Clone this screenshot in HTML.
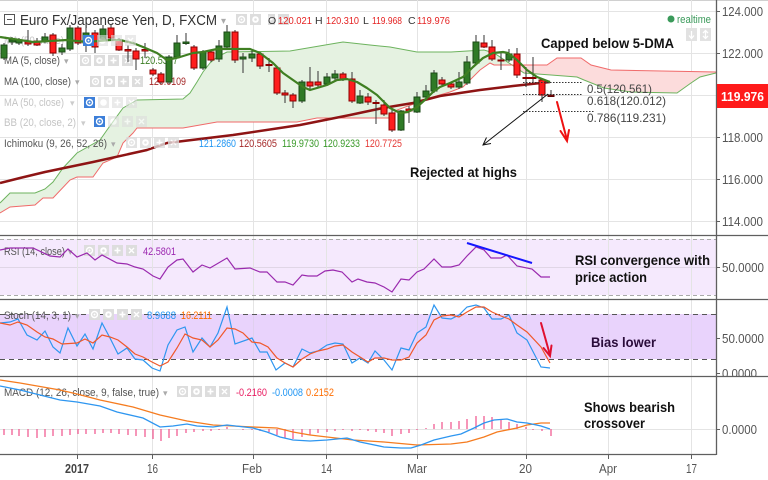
<!DOCTYPE html>
<html><head><meta charset="utf-8"><style>
html,body{margin:0;padding:0;background:#fff;}
svg{display:block;font-family:"Liberation Sans",Arial,sans-serif;}
</style></head><body>
<svg width="768" height="480" viewBox="0 0 768 480" xmlns="http://www.w3.org/2000/svg">
<defs>
<clipPath id="cm"><rect x="0" y="0" width="716" height="235"/></clipPath>
<clipPath id="cgreen"><rect x="0" y="0" width="512" height="235"/></clipPath>
<clipPath id="cred"><rect x="512" y="0" width="204" height="235"/></clipPath>
<clipPath id="cst"><rect x="0" y="300" width="716" height="76"/></clipPath>
<clipPath id="cmacd"><rect x="0" y="377" width="716" height="77"/></clipPath>
<clipPath id="cax"><rect x="716" y="300" width="52" height="76"/></clipPath>
<g id="ic4">
<rect x="0" y="0" width="11" height="11" fill="#dddddd"/>
<circle cx="5.5" cy="5.5" r="3" fill="none" stroke="#fff" stroke-width="1.4"/><circle cx="5.5" cy="5.5" r="1" fill="#fff"/>
<rect x="14" y="0" width="11" height="11" fill="#dddddd"/>
<circle cx="19.5" cy="5.5" r="3.3" fill="#fff"/><circle cx="19.5" cy="5.5" r="1.3" fill="#dddddd"/>
<rect x="28" y="0" width="11" height="11" fill="#dddddd"/>
<path d="M33.5 2.5V8.5M30.5 5.5H36.5" stroke="#fff" stroke-width="1.6"/>
<rect x="42" y="0" width="11" height="11" fill="#dddddd"/>
<path d="M45 3L50 8M50 3L45 8" stroke="#fff" stroke-width="1.4"/>
</g>
<g id="icb">
<rect x="0" y="0" width="11" height="11" fill="#3d7fd9"/>
<circle cx="5.5" cy="5.5" r="3" fill="none" stroke="#fff" stroke-width="1.4"/><circle cx="5.5" cy="5.5" r="1" fill="#fff"/>
</g>
<g id="ic3f" opacity="0.6">
<rect x="0" y="0" width="11" height="11" fill="#dddddd"/>
<circle cx="5.5" cy="5.5" r="3.3" fill="#fff"/>
<rect x="14" y="0" width="11" height="11" fill="#dddddd"/>
<path d="M19.5 2.5V8.5M16.5 5.5H22.5" stroke="#fff" stroke-width="1.6"/>
<rect x="28" y="0" width="11" height="11" fill="#dddddd"/>
<path d="M31 3L36 8M36 3L31 8" stroke="#fff" stroke-width="1.4"/>
</g>
</defs>

<!-- top border -->
<line x1="0" y1="0.5" x2="768" y2="0.5" stroke="#d0d0d0"/>

<!-- vertical grid -->
<g stroke="#e4e4e4" stroke-width="1">
<line x1="77.5" y1="0" x2="77.5" y2="454"/>
<line x1="152.5" y1="0" x2="152.5" y2="454"/>
<line x1="253.5" y1="0" x2="253.5" y2="454"/>
<line x1="326.5" y1="0" x2="326.5" y2="454"/>
<line x1="417.5" y1="0" x2="417.5" y2="454"/>
<line x1="526.5" y1="0" x2="526.5" y2="454"/>
<line x1="608.5" y1="0" x2="608.5" y2="454"/>
<line x1="691.5" y1="0" x2="691.5" y2="454"/>
<!-- main horizontals -->
<line x1="0" y1="11.5" x2="716" y2="11.5"/>
<line x1="0" y1="53.5" x2="716" y2="53.5"/>
<line x1="0" y1="95.5" x2="716" y2="95.5"/>
<line x1="0" y1="137.5" x2="716" y2="137.5"/>
<line x1="0" y1="179.5" x2="716" y2="179.5"/>
<line x1="0" y1="221.5" x2="716" y2="221.5"/>
</g>

<!-- Ichimoku cloud -->
<g clip-path="url(#cm)">
<polygon clip-path="url(#cgreen)" fill="#e5f2e1" points="0,203 10,193 35,193 45,189 53,182 63,168 77,153 100,140 107,130 123,108 137,100 183,99 190,93 197,82 203,72 210,63 217,57 227,52 290,51 337,43 343,42 370,45 390,47 417,52 451,52 484,50 494,53 524,73 551,75 577,77 584,80 604,88 631,92 677,93 691,83 700,77 716,73 716,72 611,70 591,65 581,58 557,58 547,65 524,65 494,65 490,63 480,70 463,87 450,92 433,97 397,110 390,118 317,118 297,122 217,122 183,128 137,128 133,133 123,143 117,157 103,163 93,177 77,177 70,180 53,198 43,198 35,205 10,207 0,213"/>
<polygon clip-path="url(#cred)" fill="#fcdcdc" points="0,203 10,193 35,193 45,189 53,182 63,168 77,153 100,140 107,130 123,108 137,100 183,99 190,93 197,82 203,72 210,63 217,57 227,52 290,51 337,43 343,42 370,45 390,47 417,52 451,52 484,50 494,53 524,73 551,75 577,77 584,80 604,88 631,92 677,93 691,83 700,77 716,73 716,72 611,70 591,65 581,58 557,58 547,65 524,65 494,65 490,63 480,70 463,87 450,92 433,97 397,110 390,118 317,118 297,122 217,122 183,128 137,128 133,133 123,143 117,157 103,163 93,177 77,177 70,180 53,198 43,198 35,205 10,207 0,213"/>
<polyline fill="none" stroke="#6db35e" stroke-width="1" points="0,203 10,193 35,193 45,189 53,182 63,168 77,153 100,140 107,130 123,108 137,100 183,99 190,93 197,82 203,72 210,63 217,57 227,52 290,51 337,43 343,42 370,45 390,47 417,52 451,52 484,50 494,53 524,73 551,75 577,77 584,80 604,88 631,92 677,93 691,83 700,77 716,73"/>
<polyline fill="none" stroke="#f06a6a" stroke-width="1" points="0,213 10,207 35,205 43,198 53,198 70,180 77,177 93,177 103,163 117,157 123,143 133,133 137,128 183,128 217,122 297,122 317,118 390,118 397,110 433,97 450,92 463,87 480,70 490,63 494,65 524,65 547,65 557,58 581,58 591,65 611,70 716,72"/>
<!-- MA100 -->
<polyline fill="none" stroke="#8e1414" stroke-width="2.5" stroke-linejoin="round" points="0,183 20,178 45,172 93,162 147,150 167,143 233,135 300,125 350,115 383,108 413,103 440,96 480,90 513,86 550,82"/>
</g>

<!-- Legend main -->
<g font-size="11">
<rect x="4.5" y="14.5" width="10" height="10" fill="none" stroke="#555" stroke-width="1"/>
<line x1="7" y1="19.5" x2="12" y2="19.5" stroke="#555"/>
<text x="20" y="25" font-size="14.5" fill="#333" textLength="197" lengthAdjust="spacingAndGlyphs">Euro Fx/Japanese Yen, D, FXCM</text>
<text x="221" y="24" fill="#aaa" font-size="10">▾</text>
<use href="#ic4" x="236" y="14"/>
<rect x="264" y="13" width="4" height="14" fill="#fff"/>
<text x="268" y="24" fill="#333" font-size="10.5">O</text>
<text x="278" y="24" fill="#e52222" font-size="10.5" textLength="34" lengthAdjust="spacingAndGlyphs">120.021</text>
<text x="315" y="24" fill="#333" font-size="10.5">H</text>
<text x="326" y="24" fill="#e52222" font-size="10.5" textLength="33" lengthAdjust="spacingAndGlyphs">120.310</text>
<text x="363" y="24" fill="#333" font-size="10.5">L</text>
<text x="372" y="24" fill="#e52222" font-size="10.5" textLength="30" lengthAdjust="spacingAndGlyphs">119.968</text>
<text x="408" y="24" fill="#333" font-size="10.5">C</text>
<text x="417" y="24" fill="#e52222" font-size="10.5" textLength="33" lengthAdjust="spacingAndGlyphs">119.976</text>

<text x="4" y="44" fill="#c4c4c4" textLength="60" lengthAdjust="spacingAndGlyphs">MA (50, false)</text>
<text x="68" y="44" fill="#ccc" font-size="9">▾</text>
<text x="4" y="64" fill="#555" textLength="56" lengthAdjust="spacingAndGlyphs">MA (5, close)</text>
<text x="64" y="64" fill="#aaa" font-size="9">▾</text>
<use href="#ic4" x="80" y="55"/>
<text x="140" y="64" fill="#3b7d23" textLength="38" lengthAdjust="spacingAndGlyphs">120.5337</text>
<text x="4" y="85" fill="#555" textLength="67" lengthAdjust="spacingAndGlyphs">MA (100, close)</text>
<text x="75" y="85" fill="#aaa" font-size="9">▾</text>
<use href="#ic4" x="90" y="76"/>
<text x="149" y="85" fill="#a52a2a" textLength="37" lengthAdjust="spacingAndGlyphs">120.6109</text>
<text x="4" y="106" fill="#c4c4c4" textLength="60" lengthAdjust="spacingAndGlyphs">MA (50, close)</text>
<text x="70" y="106" fill="#ccc" font-size="9">▾</text>
<text x="4" y="126" fill="#c4c4c4" textLength="72" lengthAdjust="spacingAndGlyphs">BB (20, close, 2)</text>
<text x="81" y="126" fill="#ccc" font-size="9">▾</text>
<text x="4" y="147" fill="#555" textLength="103" lengthAdjust="spacingAndGlyphs">Ichimoku (9, 26, 52, 26)</text>
<text x="111" y="147" fill="#aaa" font-size="9">▾</text>
<use href="#ic4" x="126" y="137" opacity="0.8"/>
<text x="199" y="147" fill="#2196f3" textLength="37" lengthAdjust="spacingAndGlyphs">121.2860</text>
<text x="239" y="147" fill="#a52a2a" textLength="38" lengthAdjust="spacingAndGlyphs">120.5605</text>
<text x="282" y="147" fill="#3a9a2a" textLength="37" lengthAdjust="spacingAndGlyphs">119.9730</text>
<text x="323" y="147" fill="#3a9a2a" textLength="37" lengthAdjust="spacingAndGlyphs">120.9233</text>
<text x="365" y="147" fill="#e53935" textLength="37" lengthAdjust="spacingAndGlyphs">120.7725</text>
</g>

<!-- candles -->
<g clip-path="url(#cm)" stroke-width="1">
<g stroke="#333">
<line x1="4" y1="43" x2="4" y2="60"/><line x1="12" y1="37" x2="12" y2="45"/><line x1="19" y1="38" x2="19" y2="45"/><line x1="28" y1="30" x2="28" y2="46"/><line x1="37" y1="38" x2="37" y2="46"/><line x1="45" y1="33" x2="45" y2="43"/><line x1="53" y1="33" x2="53" y2="56"/><line x1="62" y1="44" x2="62" y2="55"/><line x1="70" y1="25" x2="70" y2="51"/><line x1="78" y1="26" x2="78" y2="45"/><line x1="86" y1="28" x2="86" y2="52"/><line x1="95" y1="30" x2="95" y2="53"/><line x1="103" y1="25" x2="103" y2="40"/><line x1="111" y1="25" x2="111" y2="40"/><line x1="119" y1="38" x2="119" y2="51"/><line x1="128" y1="45" x2="128" y2="62"/><line x1="136" y1="48" x2="136" y2="70"/><line x1="145" y1="43" x2="145" y2="58"/><line x1="153" y1="68" x2="153" y2="76"/><line x1="161" y1="72" x2="161" y2="84"/><line x1="169" y1="55" x2="169" y2="84"/><line x1="177" y1="35" x2="177" y2="58"/><line x1="186" y1="33" x2="186" y2="45"/><line x1="194" y1="45" x2="194" y2="70"/><line x1="203" y1="50" x2="203" y2="70"/><line x1="211" y1="50" x2="211" y2="62"/><line x1="219" y1="40" x2="219" y2="62"/><line x1="227" y1="25" x2="227" y2="49"/><line x1="235" y1="30" x2="235" y2="63"/><line x1="243" y1="53" x2="243" y2="73"/><line x1="252" y1="50" x2="252" y2="62"/><line x1="260" y1="52" x2="260" y2="69"/><line x1="269" y1="58" x2="269" y2="72"/><line x1="277" y1="66" x2="277" y2="95"/><line x1="285" y1="90" x2="285" y2="103"/><line x1="293" y1="93" x2="293" y2="108"/><line x1="302" y1="80" x2="302" y2="103"/><line x1="310" y1="67" x2="310" y2="90"/><line x1="318" y1="71" x2="318" y2="88"/><line x1="327" y1="73" x2="327" y2="86"/><line x1="335" y1="70" x2="335" y2="80"/><line x1="343" y1="72" x2="343" y2="81"/><line x1="352" y1="72" x2="352" y2="103"/><line x1="360" y1="90" x2="360" y2="104"/><line x1="368" y1="93" x2="368" y2="105"/><line x1="376" y1="100" x2="376" y2="124"/><line x1="384" y1="100" x2="384" y2="116"/><line x1="392" y1="108" x2="392" y2="132"/><line x1="401" y1="110" x2="401" y2="131"/><line x1="409" y1="106" x2="409" y2="123"/><line x1="417" y1="92" x2="417" y2="113"/><line x1="426" y1="85" x2="426" y2="99"/><line x1="434" y1="70" x2="434" y2="93"/><line x1="442" y1="77" x2="442" y2="86"/><line x1="451" y1="82" x2="451" y2="89"/><line x1="459" y1="72" x2="459" y2="89"/><line x1="467" y1="56" x2="467" y2="85"/><line x1="476" y1="35" x2="476" y2="64"/><line x1="484" y1="35" x2="484" y2="48"/><line x1="492" y1="40" x2="492" y2="61"/><line x1="501" y1="52" x2="501" y2="70"/><line x1="509" y1="49" x2="509" y2="62"/><line x1="517" y1="48" x2="517" y2="78"/><line x1="526" y1="67" x2="526" y2="87"/><line x1="533" y1="57" x2="533" y2="83"/><line x1="542" y1="78" x2="542" y2="102"/><line x1="551" y1="90" x2="551" y2="97"/>
</g>
<g fill="#2f7a26" stroke="#1b4a16">
<rect x="1" y="45" width="6" height="13"/><rect x="9" y="40" width="6" height="2"/><rect x="16" y="40" width="6" height="3"/><rect x="42" y="37" width="6" height="4"/><rect x="59" y="48" width="6" height="4"/><rect x="67" y="28" width="6" height="21"/><rect x="83" y="33" width="6" height="10"/><rect x="100" y="29" width="6" height="10"/><rect x="166" y="57" width="6" height="25"/><rect x="174" y="43" width="6" height="14"/><rect x="183" y="42" width="6" height="1.5"/><rect x="200" y="52" width="6" height="16"/><rect x="216" y="46" width="6" height="13"/><rect x="224" y="32" width="6" height="15"/><rect x="240" y="57" width="6" height="2"/><rect x="249" y="54" width="6" height="4"/><rect x="299" y="82" width="6" height="19"/><rect x="324" y="77" width="6" height="7"/><rect x="332" y="74" width="6" height="4"/><rect x="357" y="96" width="6" height="7"/><rect x="398" y="111" width="6" height="19"/><rect x="414" y="97" width="6" height="15"/><rect x="423" y="91" width="6" height="6"/><rect x="431" y="73" width="6" height="18"/><rect x="456" y="82" width="6" height="5"/><rect x="464" y="62" width="6" height="21"/><rect x="473" y="42" width="6" height="21"/><rect x="506" y="54" width="6" height="6"/>
</g>
<g fill="#ff1e1e" stroke="#8a0000">
<rect x="25" y="42" width="6" height="2"/><rect x="34" y="41" width="6" height="4"/><rect x="50" y="35" width="6" height="18"/><rect x="75" y="28" width="6" height="15"/><rect x="92" y="33" width="6" height="14"/><rect x="108" y="28" width="6" height="10"/><rect x="116" y="40" width="6" height="10"/><rect x="125" y="49.5" width="6" height="1.5"/><rect x="133" y="51" width="6" height="8"/><rect x="142" y="49.5" width="6" height="1.5"/><rect x="150" y="70" width="6" height="4"/><rect x="158" y="74" width="6" height="8"/><rect x="191" y="47" width="6" height="21"/><rect x="208" y="52" width="6" height="8"/><rect x="232" y="32" width="6" height="28"/><rect x="257" y="54" width="6" height="12"/><rect x="266" y="64.5" width="6" height="1"/><rect x="274" y="68" width="6" height="25"/><rect x="282" y="93" width="6" height="2"/><rect x="290" y="95" width="6" height="6"/><rect x="307" y="82" width="6" height="4"/><rect x="315" y="82" width="6" height="3"/><rect x="340" y="74" width="6" height="5"/><rect x="349" y="79" width="6" height="22"/><rect x="365" y="97" width="6" height="5"/><rect x="373" y="102.5" width="6" height="1"/><rect x="381" y="105" width="6" height="9"/><rect x="389" y="113" width="6" height="17"/><rect x="406" y="109" width="6" height="2"/><rect x="439" y="80" width="6" height="4"/><rect x="448" y="84" width="6" height="3"/><rect x="481" y="43" width="6" height="4"/><rect x="489" y="47" width="6" height="12"/><rect x="498" y="60" width="6" height="1"/><rect x="514" y="54" width="6" height="21"/><rect x="523" y="77.5" width="6" height="1"/><rect x="530" y="77.5" width="6" height="1"/><rect x="539" y="80" width="6" height="15"/>
</g>
<rect x="548" y="95" width="6" height="1.5" fill="#8a1010" stroke="#5a0000"/>
<!-- MA5 -->
<polyline fill="none" stroke="#3f7f22" stroke-width="2.2" stroke-linejoin="round" points="0,37 33,42 67,40 87,42 110,40 120,40 133,43 143,47 157,53 167,60 180,57 193,53 203,52 217,49 237,49 250,49 260,53 273,63 283,73 293,80 303,87 310,90 317,88 327,85 337,80 347,79 357,82 367,88 377,95 387,105 390,108 400,113 408,112 417,107 427,98 433,92 440,87 450,83 463,77 473,67 483,58 493,53 503,52 508,53 517,60 527,70 537,77 550,82"/>
</g>
<!-- icons over candles -->
<use href="#icb" x="83" y="35"/><use href="#ic3f" x="97" y="35"/>
<use href="#icb" x="84" y="97"/><use href="#ic3f" x="98" y="97"/>
<use href="#icb" x="94" y="116"/><use href="#ic3f" x="108" y="116"/>

<!-- Fib lines -->
<g stroke="#333" stroke-width="1" stroke-dasharray="1.5,1.5">
<line x1="523" y1="82.5" x2="582" y2="82.5"/>
<line x1="523" y1="94.5" x2="582" y2="94.5"/>
<line x1="523" y1="111.5" x2="595" y2="111.5"/>
</g>
<g font-size="12" fill="#444">
<text x="587" y="93" textLength="65" lengthAdjust="spacingAndGlyphs">0.5(120.561)</text>
<text x="587" y="105" textLength="79" lengthAdjust="spacingAndGlyphs">0.618(120.012)</text>
<text x="587" y="122" textLength="79" lengthAdjust="spacingAndGlyphs">0.786(119.231)</text>
</g>
<!-- black arrow -->
<g stroke="#111" stroke-width="1" fill="none">
<line x1="548" y1="94" x2="483" y2="145"/>
<polyline points="491,143.5 483,145 486.5,137.5"/>
</g>
<!-- red arrow main -->
<g stroke="#ee1111" stroke-width="2" fill="none" stroke-linecap="round">
<line x1="557" y1="102" x2="567" y2="140"/>
<polyline points="560.5,131 567,141 569,130"/>
</g>
<!-- annotations -->
<g font-weight="bold" font-size="14" fill="#111">
<text x="541" y="48" textLength="133" lengthAdjust="spacingAndGlyphs">Capped below 5-DMA</text>
<text x="410" y="177" textLength="107" lengthAdjust="spacingAndGlyphs">Rejected at highs</text>
</g>

<!-- realtime -->
<circle cx="671" cy="19" r="3.5" fill="#3a9a5a"/>
<text x="677" y="23" font-size="11" fill="#3a9a5a" textLength="34" lengthAdjust="spacingAndGlyphs">realtime</text>
<rect x="686" y="28" width="11" height="13" fill="#e2e2e2"/>
<rect x="700" y="28" width="11" height="13" fill="#e2e2e2"/>
<path d="M691.5 31V38M689 35.5L691.5 38.5L694 35.5" stroke="#fff" stroke-width="1.3" fill="none"/>
<path d="M705.5 30.5V38.5M703 33L705.5 30.5L708 33M703 36L705.5 38.5L708 36" stroke="#fff" stroke-width="1.3" fill="none"/>

<!-- RSI pane -->
<rect x="0" y="239" width="716" height="56" fill="#f5e9fd"/>
<line x1="0" y1="267.5" x2="716" y2="267.5" stroke="#e0d6e6"/>
<g stroke="#e4e4e4"><line x1="77.5" y1="236" x2="77.5" y2="299"/><line x1="152.5" y1="236" x2="152.5" y2="299"/><line x1="253.5" y1="236" x2="253.5" y2="299"/><line x1="326.5" y1="236" x2="326.5" y2="299"/><line x1="417.5" y1="236" x2="417.5" y2="299"/><line x1="526.5" y1="236" x2="526.5" y2="299"/><line x1="608.5" y1="236" x2="608.5" y2="299"/><line x1="691.5" y1="236" x2="691.5" y2="299"/></g>
<g stroke="#aaa" stroke-dasharray="4,3"><line x1="0" y1="239.5" x2="716" y2="239.5"/><line x1="0" y1="295.5" x2="716" y2="295.5"/></g>
<text x="4" y="255" font-size="11" fill="#555" textLength="61" lengthAdjust="spacingAndGlyphs">RSI (14, close)</text>
<text x="68" y="255" font-size="9" fill="#aaa">▾</text>
<use href="#ic4" x="84" y="245"/>
<text x="143" y="255" font-size="11" fill="#9c27b0" textLength="33" lengthAdjust="spacingAndGlyphs">42.5801</text>
<polyline fill="none" stroke="#9a2aae" stroke-width="1.2" points="0,250 10,248 33,248 50,256 60,257 68,249 77,257 87,253 95,260 102,255 117,263 127,264 135,267 143,269 153,276 160,279 168,267 177,260 183,259 193,272 202,265 210,268 227,258 235,269 250,268 260,272 267,272 277,282 285,282 293,285 302,275 308,276 317,276 325,271 333,270 342,272 352,282 358,279 367,282 375,283 384,287 392,292 401,279 409,280 417,272 424,269 434,259 442,267 451,267 459,265 467,256 476,247 484,250 491,258 501,258 507,255 517,266 532,269 541,277 550,277"/>
<line x1="467" y1="243" x2="532" y2="263" stroke="#1515ff" stroke-width="2"/>
<g font-weight="bold" font-size="14" fill="#111">
<text x="575" y="265" textLength="135" lengthAdjust="spacingAndGlyphs">RSI convergence with</text>
<text x="575" y="282" textLength="72" lengthAdjust="spacingAndGlyphs">price action</text>
</g>

<!-- Stoch pane -->
<rect x="0" y="314" width="716" height="45" fill="#e9d3fc"/>
<g stroke="#e4e4e4"><line x1="77.5" y1="300" x2="77.5" y2="314"/><line x1="152.5" y1="300" x2="152.5" y2="314"/><line x1="253.5" y1="300" x2="253.5" y2="314"/><line x1="326.5" y1="300" x2="326.5" y2="314"/><line x1="417.5" y1="300" x2="417.5" y2="314"/><line x1="526.5" y1="300" x2="526.5" y2="314"/><line x1="608.5" y1="300" x2="608.5" y2="314"/><line x1="691.5" y1="300" x2="691.5" y2="314"/>
<line x1="77.5" y1="359" x2="77.5" y2="376"/><line x1="152.5" y1="359" x2="152.5" y2="376"/><line x1="253.5" y1="359" x2="253.5" y2="376"/><line x1="326.5" y1="359" x2="326.5" y2="376"/><line x1="417.5" y1="359" x2="417.5" y2="376"/><line x1="526.5" y1="359" x2="526.5" y2="376"/><line x1="608.5" y1="359" x2="608.5" y2="376"/><line x1="691.5" y1="359" x2="691.5" y2="376"/></g>
<g stroke="#e0d0ee"><line x1="77.5" y1="314" x2="77.5" y2="359"/><line x1="152.5" y1="314" x2="152.5" y2="359"/><line x1="253.5" y1="314" x2="253.5" y2="359"/><line x1="326.5" y1="314" x2="326.5" y2="359"/><line x1="417.5" y1="314" x2="417.5" y2="359"/><line x1="526.5" y1="314" x2="526.5" y2="359"/><line x1="608.5" y1="314" x2="608.5" y2="359"/><line x1="691.5" y1="314" x2="691.5" y2="359"/></g>
<g stroke="#555" stroke-dasharray="5,4"><line x1="0" y1="314.5" x2="716" y2="314.5"/><line x1="0" y1="359.5" x2="716" y2="359.5"/></g>
<text x="4" y="319" font-size="11" fill="#555" textLength="67" lengthAdjust="spacingAndGlyphs">Stoch (14, 3, 1)</text>
<text x="75" y="319" font-size="9" fill="#aaa">▾</text>
<use href="#ic4" x="89" y="309"/>
<text x="147" y="319" font-size="11" fill="#2196f3" textLength="29" lengthAdjust="spacingAndGlyphs">8.9688</text>
<text x="181" y="319" font-size="11" fill="#ff6d00" textLength="31" lengthAdjust="spacingAndGlyphs">16.2111</text>
<g clip-path="url(#cst)">
<polyline fill="none" stroke="#2e96f0" stroke-width="1.2" points="0,323 10,322 18,319 27,335 37,340 45,331 53,347 60,353 68,328 77,346 85,334 93,349 102,323 110,338 118,354 127,348 135,359 143,360 152,368 160,371 168,345 177,330 185,327 193,352 202,338 210,347 218,333 227,307 235,344 252,338 260,352 267,352 276,370 285,363 293,367 302,349 310,353 318,351 327,345 335,343 343,344 352,363 360,358 368,363 375,351 384,360 392,370 401,348 409,350 417,333 426,327 434,305 442,318 451,319 459,315 467,307 476,305 484,308 492,319 501,319 509,315 517,333 527,340 541,367 550,368"/>
<polyline fill="none" stroke="#f0582a" stroke-width="1.2" points="0,323 10,325 18,322 27,325 37,332 45,337 53,339 62,344 77,343 85,339 93,343 102,335 110,337 118,340 127,347 135,354 143,357 152,362 160,366 168,362 177,348 185,334 193,338 202,340 210,347 218,340 227,328 235,329 243,333 252,342 260,343 268,347 277,358 285,363 293,367 302,359 310,354 318,351 327,349 335,346 343,345 352,352 360,357 368,362 375,358 384,358 392,360 401,360 409,357 417,343 426,335 434,320 442,316 451,315 459,317 467,312 476,307 484,307 492,312 501,316 509,319 517,325 527,332 541,347 550,363"/>
</g>
<g stroke="#e0102f" stroke-width="2" fill="none" stroke-linecap="round">
<line x1="541" y1="323" x2="550" y2="355"/>
<polyline points="543.5,348 550,356 551.5,345.5"/>
</g>
<text x="591" y="347" font-weight="bold" font-size="14" fill="#2a0c3a" textLength="65" lengthAdjust="spacingAndGlyphs">Bias lower</text>

<!-- MACD pane -->
<g stroke="#e4e4e4"><line x1="0" y1="429.5" x2="716" y2="429.5"/></g>
<text x="4" y="396" font-size="11" fill="#555" textLength="155" lengthAdjust="spacingAndGlyphs">MACD (12, 26, close, 9, false, true)</text>
<text x="163" y="396" font-size="9" fill="#aaa">▾</text>
<use href="#ic4" x="177" y="386"/>
<text x="236" y="396" font-size="11" fill="#e91e63" textLength="31" lengthAdjust="spacingAndGlyphs">-0.2160</text>
<text x="272" y="396" font-size="11" fill="#2196f3" textLength="31" lengthAdjust="spacingAndGlyphs">-0.0008</text>
<text x="306" y="396" font-size="11" fill="#ff6d00" textLength="28" lengthAdjust="spacingAndGlyphs">0.2152</text>
<g clip-path="url(#cmacd)" stroke="#f0508a" stroke-width="1.2">
<line x1="4" y1="429" x2="4" y2="435"/><line x1="12" y1="429" x2="12" y2="435"/><line x1="19" y1="429" x2="19" y2="436"/><line x1="28" y1="429" x2="28" y2="437"/><line x1="37" y1="429" x2="37" y2="438"/><line x1="45" y1="429" x2="45" y2="437"/><line x1="53" y1="429" x2="53" y2="436"/><line x1="62" y1="429" x2="62" y2="436"/><line x1="70" y1="429" x2="70" y2="435"/><line x1="78" y1="429" x2="78" y2="434"/><line x1="86" y1="429" x2="86" y2="434"/><line x1="95" y1="429" x2="95" y2="434"/><line x1="103" y1="429" x2="103" y2="433"/><line x1="111" y1="429" x2="111" y2="433"/><line x1="119" y1="429" x2="119" y2="434"/><line x1="128" y1="429" x2="128" y2="435"/><line x1="136" y1="429" x2="136" y2="436"/><line x1="145" y1="429" x2="145" y2="437"/><line x1="153" y1="429" x2="153" y2="439"/><line x1="161" y1="429" x2="161" y2="441"/><line x1="169" y1="429" x2="169" y2="438"/><line x1="177" y1="429" x2="177" y2="436"/><line x1="186" y1="429" x2="186" y2="433"/><line x1="194" y1="429" x2="194" y2="432"/><line x1="203" y1="429" x2="203" y2="431"/><line x1="211" y1="429" x2="211" y2="431"/><line x1="219" y1="429" x2="219" y2="430"/><line x1="227" y1="427" x2="227" y2="429"/><line x1="243" y1="429" x2="243" y2="430"/><line x1="252" y1="429" x2="252" y2="430"/><line x1="260" y1="429" x2="260" y2="431"/><line x1="269" y1="429" x2="269" y2="432"/><line x1="277" y1="429" x2="277" y2="435"/><line x1="285" y1="429" x2="285" y2="438"/><line x1="293" y1="429" x2="293" y2="439"/><line x1="302" y1="429" x2="302" y2="437"/><line x1="310" y1="429" x2="310" y2="435"/><line x1="318" y1="429" x2="318" y2="433"/><line x1="327" y1="429" x2="327" y2="432"/><line x1="335" y1="429" x2="335" y2="431"/><line x1="343" y1="429" x2="343" y2="430"/><line x1="352" y1="429" x2="352" y2="431"/><line x1="360" y1="429" x2="360" y2="430"/><line x1="368" y1="429" x2="368" y2="431"/><line x1="376" y1="429" x2="376" y2="432"/><line x1="384" y1="429" x2="384" y2="433"/><line x1="392" y1="429" x2="392" y2="436"/><line x1="401" y1="429" x2="401" y2="434"/><line x1="409" y1="429" x2="409" y2="433"/><line x1="417" y1="429" x2="417" y2="430"/><line x1="426" y1="428" x2="426" y2="429"/><line x1="434" y1="424" x2="434" y2="429"/><line x1="442" y1="422" x2="442" y2="429"/><line x1="451" y1="422" x2="451" y2="429"/><line x1="459" y1="421" x2="459" y2="429"/><line x1="467" y1="419" x2="467" y2="429"/><line x1="476" y1="416" x2="476" y2="429"/><line x1="484" y1="416" x2="484" y2="429"/><line x1="492" y1="417" x2="492" y2="429"/><line x1="501" y1="420" x2="501" y2="429"/><line x1="509" y1="422" x2="509" y2="429"/><line x1="517" y1="424" x2="517" y2="429"/><line x1="526" y1="427" x2="526" y2="429"/><line x1="533" y1="429" x2="533" y2="430"/><line x1="542" y1="429" x2="542" y2="431"/><line x1="551" y1="429" x2="551" y2="436"/>
</g>
<g clip-path="url(#cmacd)">
<polyline fill="none" stroke="#f57c20" stroke-width="1.3" points="0,380 20,383 60,390 77,394 100,400 133,407 160,415 187,421 213,425 233,426 253,427 277,428 293,432 310,435 327,437 353,440 384,442 417,445 451,444 467,442 484,437 497,432 517,428 527,425 541,423 550,423"/>
<polyline fill="none" stroke="#2e96f0" stroke-width="1.3" points="0,386 20,390 40,395 60,400 77,402 100,406 117,412 143,418 160,427 173,426 187,424 197,426 213,427 227,425 253,428 267,432 280,437 293,440 310,441 327,440 347,438 360,442 384,447 401,448 411,448 421,445 434,440 451,436 461,434 474,428 484,423 494,420 507,419 517,422 527,423 541,426 550,429"/>
</g>
<g font-weight="bold" font-size="14" fill="#111">
<text x="584" y="412" textLength="91" lengthAdjust="spacingAndGlyphs">Shows bearish</text>
<text x="584" y="428" textLength="61" lengthAdjust="spacingAndGlyphs">crossover</text>
</g>

<!-- separators and axes -->
<g stroke="#5f5f5f" stroke-width="1.3">
<line x1="0" y1="235.5" x2="768" y2="235.5"/>
<line x1="0" y1="299.5" x2="768" y2="299.5"/>
<line x1="0" y1="376.5" x2="768" y2="376.5"/>
<line x1="0" y1="454.5" x2="716" y2="454.5"/>
<line x1="716.5" y1="0" x2="716.5" y2="455"/>
</g>
<g stroke="#5f5f5f" stroke-width="1">
<line x1="716" y1="11.5" x2="720" y2="11.5"/><line x1="716" y1="53.5" x2="720" y2="53.5"/><line x1="716" y1="137.5" x2="720" y2="137.5"/><line x1="716" y1="179.5" x2="720" y2="179.5"/><line x1="716" y1="221.5" x2="720" y2="221.5"/>
<line x1="716" y1="267.5" x2="720" y2="267.5"/><line x1="716" y1="338.5" x2="720" y2="338.5"/><line x1="716" y1="373.5" x2="720" y2="373.5"/><line x1="716" y1="429.5" x2="720" y2="429.5"/>
<line x1="77.5" y1="455" x2="77.5" y2="459"/><line x1="152.5" y1="455" x2="152.5" y2="459"/><line x1="253.5" y1="455" x2="253.5" y2="459"/><line x1="326.5" y1="455" x2="326.5" y2="459"/><line x1="417.5" y1="455" x2="417.5" y2="459"/><line x1="526.5" y1="455" x2="526.5" y2="459"/><line x1="608.5" y1="455" x2="608.5" y2="459"/><line x1="691.5" y1="455" x2="691.5" y2="459"/>
</g>
<g font-size="12.5" fill="#555">
<text x="722" y="16" textLength="41" lengthAdjust="spacingAndGlyphs">124.000</text>
<text x="722" y="58" textLength="41" lengthAdjust="spacingAndGlyphs">122.000</text>
<text x="722" y="142" textLength="41" lengthAdjust="spacingAndGlyphs">118.000</text>
<text x="722" y="184" textLength="41" lengthAdjust="spacingAndGlyphs">116.000</text>
<text x="722" y="226" textLength="41" lengthAdjust="spacingAndGlyphs">114.000</text>
<text x="722" y="272" textLength="42" lengthAdjust="spacingAndGlyphs">50.0000</text>
<text x="722" y="343" textLength="42" lengthAdjust="spacingAndGlyphs">50.0000</text>
<text x="722" y="378" textLength="35" lengthAdjust="spacingAndGlyphs" clip-path="url(#cax)">0.0000</text>
<text x="722" y="434" textLength="35" lengthAdjust="spacingAndGlyphs">0.0000</text>
</g>
<rect x="717" y="84" width="51" height="24" fill="#ff1a1a"/>
<text x="721" y="101" font-size="13" font-weight="bold" fill="#fff" textLength="43" lengthAdjust="spacingAndGlyphs">119.976</text>

<!-- time axis -->
<g font-size="12.5" fill="#555">
<text x="65" y="473" font-weight="bold" fill="#444" textLength="24" lengthAdjust="spacingAndGlyphs">2017</text>
<text x="147" y="473" textLength="11" lengthAdjust="spacingAndGlyphs">16</text>
<text x="242" y="473" textLength="20" lengthAdjust="spacingAndGlyphs">Feb</text>
<text x="321" y="473" textLength="11" lengthAdjust="spacingAndGlyphs">14</text>
<text x="407" y="473" textLength="20" lengthAdjust="spacingAndGlyphs">Mar</text>
<text x="519" y="473" textLength="13" lengthAdjust="spacingAndGlyphs">20</text>
<text x="599" y="473" textLength="18" lengthAdjust="spacingAndGlyphs">Apr</text>
<text x="686" y="473" textLength="11" lengthAdjust="spacingAndGlyphs">17</text>
</g>
</svg>
</body></html>
